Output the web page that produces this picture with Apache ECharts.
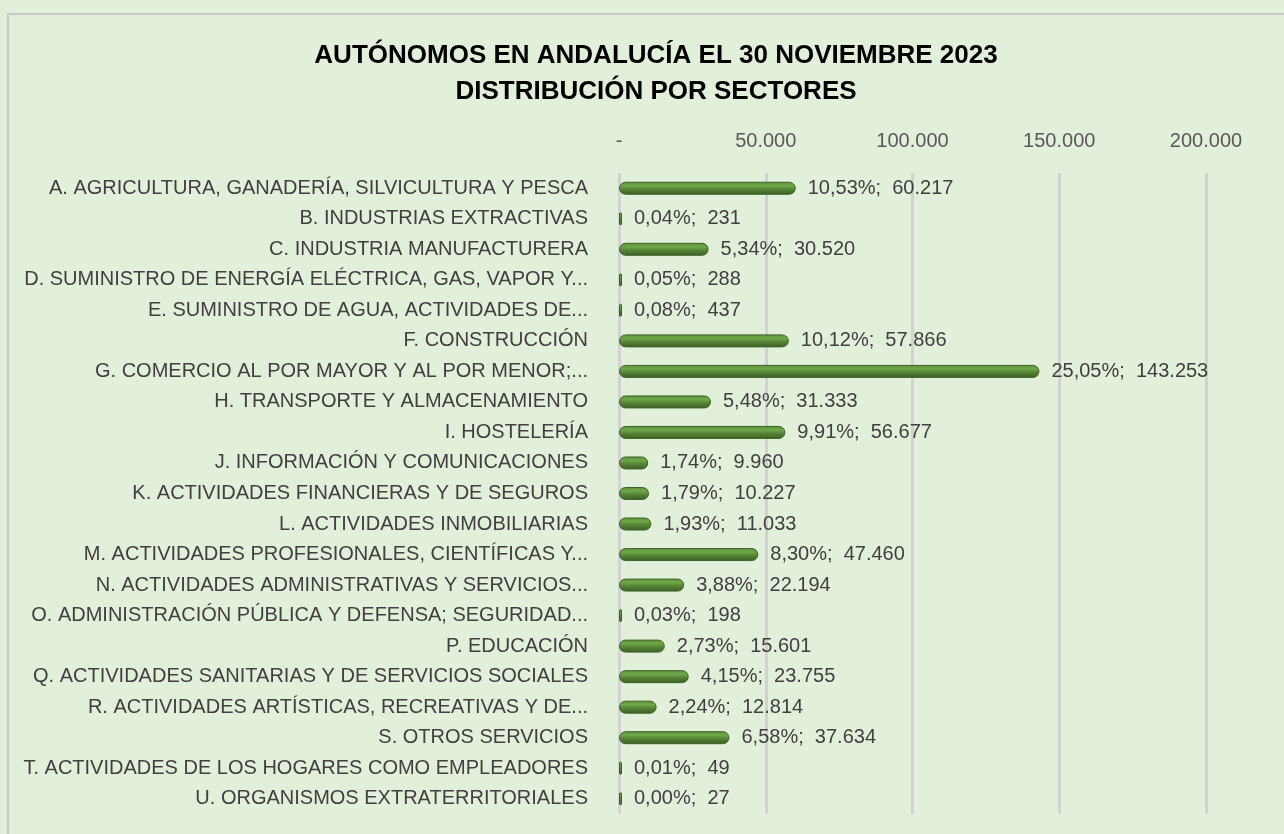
<!DOCTYPE html>
<html lang="es">
<head>
<meta charset="UTF-8">
<title>Autónomos en Andalucía</title>
<script src="https://cdn.jsdelivr.net/npm/echarts@6/dist/echarts.min.js"></script>
<style>
  html, body { margin: 0; padding: 0; background: #e2efda; }
  #chart { width: 1284px; height: 834px; }
</style>
</head>
<body>
<div id="chart"></div>
<script>
const sectores = [
    'A. AGRICULTURA, GANADERÍA, SILVICULTURA Y PESCA',
    'B. INDUSTRIAS EXTRACTIVAS',
    'C. INDUSTRIA MANUFACTURERA',
    'D. SUMINISTRO DE ENERGÍA ELÉCTRICA, GAS, VAPOR Y...',
    'E. SUMINISTRO DE AGUA, ACTIVIDADES DE...',
    'F. CONSTRUCCIÓN',
    'G. COMERCIO AL POR MAYOR Y AL POR MENOR;...',
    'H. TRANSPORTE Y ALMACENAMIENTO',
    'I. HOSTELERÍA',
    'J. INFORMACIÓN Y COMUNICACIONES',
    'K. ACTIVIDADES FINANCIERAS Y DE SEGUROS',
    'L. ACTIVIDADES INMOBILIARIAS',
    'M. ACTIVIDADES PROFESIONALES, CIENTÍFICAS Y...',
    'N. ACTIVIDADES ADMINISTRATIVAS Y SERVICIOS...',
    'O. ADMINISTRACIÓN PÚBLICA Y DEFENSA; SEGURIDAD...',
    'P. EDUCACIÓN',
    'Q. ACTIVIDADES SANITARIAS Y DE SERVICIOS SOCIALES',
    'R. ACTIVIDADES ARTÍSTICAS, RECREATIVAS Y DE...',
    'S. OTROS SERVICIOS',
    'T. ACTIVIDADES DE LOS HOGARES COMO EMPLEADORES',
    'U. ORGANISMOS EXTRATERRITORIALES'
];
const autonomos = [60217, 231, 30520, 288, 437, 57866, 143253, 31333, 56677, 9960,
    10227, 11033, 47460, 22194, 198, 15601, 23755, 12814, 37634, 49, 27];
const porcentajes = ['10,53%', '0,04%', '5,34%', '0,05%', '0,08%', '10,12%', '25,05%', '5,48%', '9,91%', '1,74%',
    '1,79%', '1,93%', '8,30%', '3,88%', '0,03%', '2,73%', '4,15%', '2,24%', '6,58%', '0,01%', '0,00%'];

const FONT = '"Liberation Sans Narrow", "Liberation Sans", sans-serif';
const fmt = v => String(v).replace(/\B(?=(\d{3})+(?!\d))/g, '.');

const chart = echarts.init(document.getElementById('chart'));

chart.setOption({
    animation: false,
    backgroundColor: '#e2efda',
    title: {
        text: 'AUTÓNOMOS EN ANDALUCÍA EL 30 NOVIEMBRE 2023\nDISTRIBUCIÓN POR SECTORES',
        left: 651,
        top: 33,
        textAlign: 'center',
        textStyle: {
            fontFamily: FONT,
            fontWeight: 'bold',
            fontSize: 26,
            lineHeight: 36,
            color: '#000'
        }
    },
    graphic: [{
        type: 'polyline',
        shape: { points: [[8, 834], [8, 14], [1284, 14]] },
        style: { stroke: '#c8c8c8', lineWidth: 2, fill: null },
        silent: true
    }],
    grid: { left: 619, right: 78, top: 173, bottom: 20 },
    xAxis: {
        type: 'value',
        position: 'top',
        min: 0,
        max: 200000,
        interval: 50000,
        axisLine: { show: false },
        axisTick: { show: false },
        axisLabel: {
            margin: 22,
            fontFamily: FONT,
            fontSize: 20,
            color: '#595959',
            formatter: v => v === 0 ? '-' : fmt(v)
        },
        splitLine: { lineStyle: { color: '#d2d2d2', width: 3 } }
    },
    yAxis: {
        type: 'category',
        inverse: true,
        data: sectores,
        axisLine: { show: false },
        axisTick: { show: false },
        axisLabel: {
            margin: 31,
            fontFamily: FONT,
            fontSize: 20,
            color: '#404040'
        }
    },
    series: [{
        type: 'bar',
        data: autonomos,
        barWidth: 13,
        barMinHeight: 3,
        itemStyle: {
            borderRadius: 6,
            borderColor: '#3e6327',
            borderWidth: 1,
            color: new echarts.graphic.LinearGradient(0, 0, 0, 1, [
                { offset: 0, color: '#5c8f3a' },
                { offset: 0.3, color: '#6ea84a' },
                { offset: 0.6, color: '#548235' },
                { offset: 1, color: '#3b5e24' }
            ])
        },
        label: {
            show: true,
            position: 'right',
            distance: 12,
            fontFamily: FONT,
            fontSize: 20,
            color: '#404040',
            formatter: p => porcentajes[p.dataIndex] + ';  ' + fmt(p.value)
        }
    }]
});
</script>
</body>
</html>
